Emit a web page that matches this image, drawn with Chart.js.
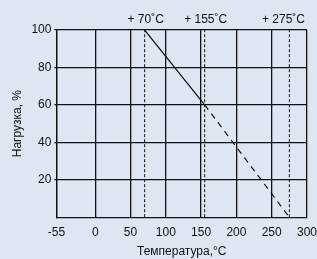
<!DOCTYPE html>
<html>
<head>
<meta charset="utf-8">
<script src="https://cdn.jsdelivr.net/npm/chart.js@4/dist/chart.umd.min.js"></script>
<style>
  html, body { margin: 0; padding: 0; background: #dde6f2; }
  #wrap { width: 317px; height: 259px; }
</style>
</head>
<body>
<div id="wrap"><canvas id="deratingChart" width="317" height="259"></canvas></div>
<script>
// Данные графика
const xTicks = [-55, 0, 50, 100, 150, 200, 250, 300];
const yTicks = [20, 40, 60, 80, 100];
const solidTemps = [70, 155];
const solidLoad = [100, 60];
const dashedTemps = [155, 275];
const dashedLoad = [60, 0];
const markerTemps = [70, 155, 275];
const markerLabels = ["+ 70˚C", "+ 155˚C", "+ 275˚C"];

const toPoints = (xs, ys) => xs.map((x, i) => ({ x: x, y: ys[i] }));

// вертикальные пунктирные линии
const markerSets = markerTemps.map(t => ({
    data: [{ x: t, y: 0 }, { x: t, y: 100 }],
    borderColor: "#111",
    borderWidth: 1,
    borderDash: [3, 2],
    pointRadius: 0
}));

// подписи над графиком (не выходят за правый край)
const topLabels = {
    id: "topLabels",
    afterDraw(chart) {
        const ctx = chart.ctx;
        const xs = chart.scales.x;
        const area = chart.chartArea;
        ctx.save();
        ctx.font = "12px 'Liberation Sans', Arial, sans-serif";
        ctx.fillStyle = "#111";
        ctx.textAlign = "center";
        ctx.textBaseline = "alphabetic";
        markerTemps.forEach((t, i) => {
            const w = ctx.measureText(markerLabels[i]).width;
            const x = Math.min(xs.getPixelForValue(t) + 1, area.right - 2 - w / 2);
            ctx.fillText(markerLabels[i], x, area.top - 7);
        });
        ctx.restore();
    }
};

Chart.defaults.font.family = "'Liberation Sans', Arial, sans-serif";
Chart.defaults.font.size = 12;
Chart.defaults.color = "#111";

new Chart(document.getElementById("deratingChart"), {
    type: "line",
    data: {
        datasets: [
            {
                data: toPoints(solidTemps, solidLoad),
                borderColor: "#111",
                borderWidth: 1.2,
                pointRadius: 0
            },
            {
                data: toPoints(dashedTemps, dashedLoad),
                borderColor: "#111",
                borderWidth: 1.2,
                borderDash: [6, 5],
                pointRadius: 0
            },
            ...markerSets
        ]
    },
    options: {
        responsive: false,
        animation: false,
        layout: { padding: { top: 30, right: 0, left: 10, bottom: -5 } },
        plugins: { legend: { display: false }, tooltip: { enabled: false } },
        scales: {
            x: {
                type: "linear",
                min: -55,
                max: 300,
                afterBuildTicks: axis => { axis.ticks = xTicks.map(v => ({ value: v })); },
                afterFit: axis => { axis.paddingRight = 10; },
                ticks: { maxRotation: 0, padding: 8 },
                grid: { color: "#111", lineWidth: 1.3, drawTicks: false },
                border: { color: "#111", width: 1.3 },
                title: { display: true, text: "Температура,°C", padding: { top: -3, bottom: 5 } }
            },
            y: {
                min: 0,
                max: 100,
                afterBuildTicks: axis => { axis.ticks = yTicks.map(v => ({ value: v })); },
                ticks: { padding: 3 },
                grid: { color: "#111", lineWidth: 1.3, drawTicks: true, tickLength: 2 },
                border: { color: "#111", width: 1.3 },
                title: { display: true, text: "Нагрузка, %", padding: { top: 0, bottom: 4 } }
            }
        }
    },
    plugins: [topLabels]
});
</script>
</body>
</html>
